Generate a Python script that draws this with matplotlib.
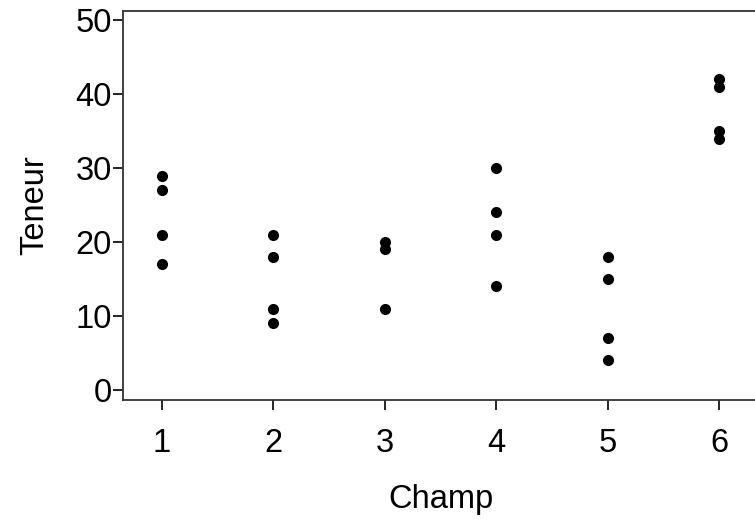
import matplotlib
matplotlib.use("Agg")
import matplotlib.pyplot as plt

champ = [1, 1, 1, 1, 2, 2, 2, 2, 3, 3, 3, 4, 4, 4, 4, 5, 5, 5, 5, 6, 6, 6, 6]
teneur = [29, 27, 21, 17, 21, 18, 11, 9, 20, 19, 11, 30, 24, 21, 14, 18, 15, 7, 4, 42, 41, 35, 34]
xticks = [1, 2, 3, 4, 5, 6]
yticks = [0, 10, 20, 30, 40, 50]

plt.rcParams['font.family'] = ['Liberation Sans', 'DejaVu Sans']

W, H = 755, 520
fig = plt.figure(figsize=(W / 100, H / 100), dpi=100)
left, right, top, bottom = 123, 758, 10.7, 400
ax = fig.add_axes([left / W, 1 - bottom / H, (right - left) / W, (bottom - top) / H])

ax.plot(champ, teneur, 'o', color='black', markersize=8, markeredgewidth=0)

ax.set_xlim(0.65, 6.35)
ax.set_ylim(-1.35, 51.28)
ax.set_xticks(xticks)
ax.set_yticks(yticks)
ax.tick_params(axis='both', direction='out', length=7, width=1.2, labelsize=23.5, colors='black')
ax.tick_params(axis='x', pad=13)
ax.tick_params(axis='y', pad=1)
for s in ax.spines.values():
    s.set_linewidth(1.3)
    s.set_color('#333333')

ax.set_xlabel('Champ', fontsize=23.5, labelpad=18)
ax.set_ylabel('Teneur', fontsize=23.5, labelpad=18)

fig.savefig('out.png', dpi=100)
